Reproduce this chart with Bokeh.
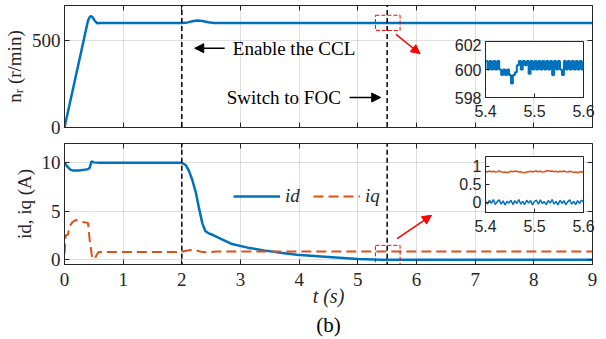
from bokeh.plotting import figure
from bokeh.layouts import column
from bokeh.models import (Range1d, FixedTicker, LinearAxis, CustomJSTickFormatter, Arrow,
                          NormalHead, Label, Legend, LegendItem, Title)
from bokeh.embed import file_html
from bokeh.resources import INLINE

# ---------------- data ----------------
t_speed = [0.0, 0.40, 0.43, 0.45, 0.48, 0.52, 0.56, 0.60, 1.0, 2.0, 2.1, 2.2, 2.27, 2.35, 2.45, 2.55, 2.7, 9.0]
n_r = [0, 612, 634, 639, 632, 610, 598, 600, 600, 600, 603, 611, 614, 611, 604, 600, 600, 600]

t_id = [0.0, 0.05, 0.10, 0.15, 0.25, 0.35, 0.40, 0.43, 0.46, 0.50, 0.60, 2.0, 2.07, 2.12, 2.18, 2.24,
        2.29, 2.35, 2.40, 2.45, 2.51, 2.62, 2.84, 3.12, 3.40, 3.68, 3.96, 4.5, 5.0, 5.4, 9.0]
i_d = [10.0, 9.6, 9.3, 9.2, 9.2, 9.3, 9.35, 9.5, 10.15, 10.05, 10.0, 10.0, 9.75, 9.2, 8.2, 6.9,
       5.4, 3.75, 2.96, 2.75, 2.6, 2.27, 1.65, 1.24, 0.96, 0.72, 0.5, 0.27, 0.06, 0.0, 0.0]

t_iq = [0.0, 0.02, 0.06, 0.08, 0.14, 0.20, 0.31, 0.40, 0.43, 0.47, 0.51, 0.55, 0.58, 2.0, 2.05,
        2.15, 2.25, 2.35, 2.45, 2.6, 9.0]
i_q = [0.62, 2.5, 2.6, 3.4, 3.9, 4.1, 3.9, 3.8, 2.0, 0.27, 0.05, 0.5, 0.8, 0.8, 0.9,
       1.0, 0.95, 0.78, 0.75, 0.85, 0.85]

t_zoom = [5.400, 5.404, 5.408, 5.412, 5.416, 5.420, 5.424, 5.428, 5.432, 5.436, 5.440, 5.444, 5.448,
          5.452, 5.456, 5.460, 5.464, 5.468, 5.472, 5.476, 5.480, 5.484, 5.488, 5.492, 5.496, 5.500,
          5.504, 5.508, 5.512, 5.516, 5.520, 5.524, 5.528, 5.532, 5.536, 5.540, 5.544, 5.548, 5.552,
          5.556, 5.560, 5.564, 5.568, 5.572, 5.576, 5.580, 5.584, 5.588, 5.592, 5.596, 5.600]
n_zoom = [600.6, 600.0, 600.6, 600.0, 600.6, 600.0, 600.6, 600.0, 599.6, 600.0, 599.6, 600.0, 599.6,
          599.0, 599.6, 599.8, 600.3, 600.6, 600.0, 600.6, 600.3, 600.6, 599.7, 600.6, 600.0, 600.6,
          600.0, 600.6, 600.0, 600.6, 600.0, 600.6, 600.0, 600.6, 599.6, 600.6, 600.0, 600.6, 600.0,
          599.6, 600.6, 600.0, 600.6, 600.0, 600.6, 600.0, 600.6, 600.0, 600.6, 600.0, 600.6]
iq_zoom = [0.86, 0.84, 0.87, 0.85, 0.86, 0.84, 0.85, 0.87, 0.85, 0.83, 0.84, 0.82, 0.84, 0.86, 0.85,
           0.87, 0.86, 0.84, 0.85, 0.83, 0.82, 0.84, 0.85, 0.86, 0.84, 0.86, 0.87, 0.85, 0.86, 0.84,
           0.85, 0.87, 0.88, 0.86, 0.87, 0.85, 0.86, 0.84, 0.86, 0.85, 0.87, 0.85, 0.84, 0.86, 0.85,
           0.83, 0.84, 0.82, 0.84, 0.85, 0.83]
id_zoom = [0.03, -0.05, 0.06, -0.03, 0.08, -0.06, 0.02, 0.07, -0.05, 0.04, -0.07, 0.03, -0.02, 0.06,
           -0.06, 0.05, -0.03, 0.08, -0.05, 0.03, -0.06, 0.06, -0.02, 0.05, -0.07, 0.03, 0.06, -0.05,
           0.07, -0.03, 0.02, -0.06, 0.05, -0.02, 0.08, -0.05, 0.03, -0.07, 0.06, -0.03, 0.05, -0.06,
           0.02, 0.07, -0.05, 0.03, -0.06, 0.05, -0.03, 0.06, 0.01]

x_ticks = [0, 1, 2, 3, 4, 5, 6, 7, 8, 9]
speed_ticks = [0, 500]
current_ticks = [0, 5, 10]
zoom_x_ticks = [5.4, 5.5, 5.6]
zoom_speed_ticks = [598, 600, 602]
zoom_current_ticks = [0, 0.5, 1]
zoom_current_labels = {0: "0", 0.5: "0.5", 1: "1"}
event_times = [2.0, 5.5]

BLUE = "#0072BD"
ORANGE = "#D95319"
AX = "#262626"
SERIF = "Liberation Serif"
SANS = "Liberation Sans"
FS = "19px"


def empty_fmt():
    return CustomJSTickFormatter(code="return ''")


def style_axis(ax, font, size):
    ax.major_tick_in = 5
    ax.major_tick_out = 0
    ax.minor_tick_in = 0
    ax.minor_tick_out = 0
    ax.axis_line_color = AX
    ax.major_tick_line_color = AX
    ax.major_label_text_font = font
    ax.major_label_text_font_size = size
    ax.major_label_text_color = AX
    ax.axis_label_text_font = font
    ax.axis_label_text_font_size = size
    ax.axis_label_text_font_style = "normal"
    ax.axis_label_text_color = AX


def style_main(p, yticks, ylabel):
    p.outline_line_color = AX
    p.outline_line_width = 1
    bx = p.below[0]
    ly = p.left[0]
    bx.ticker = FixedTicker(ticks=x_ticks)
    ly.ticker = FixedTicker(ticks=yticks)
    style_axis(bx, SERIF, FS)
    style_axis(ly, SERIF, FS)
    ly.major_label_standoff = 4
    ly.axis_label = ylabel
    ly.axis_label_standoff = 4
    p.grid.grid_line_color = AX
    p.grid.grid_line_alpha = 0.15
    p.xgrid.ticker = FixedTicker(ticks=x_ticks)
    p.ygrid.ticker = FixedTicker(ticks=yticks)
    # box ticks on top and right
    top = LinearAxis(ticker=FixedTicker(ticks=x_ticks), formatter=empty_fmt(), major_tick_in=5,
                     major_tick_out=0, minor_tick_in=0, minor_tick_out=0, axis_line_color=None,
                     major_tick_line_color=AX, major_label_standoff=0)
    right = LinearAxis(ticker=FixedTicker(ticks=yticks), formatter=empty_fmt(), major_tick_in=5,
                       major_tick_out=0, minor_tick_in=0, minor_tick_out=0, axis_line_color=None,
                       major_tick_line_color=AX, major_label_standoff=0)
    p.add_layout(top, "above")
    p.add_layout(right, "right")
    return bx, ly


# ---------------- top panel: speed ----------------
p1 = figure(width=606, height=140, x_range=Range1d(0, 9), y_range=Range1d(0, 700),
            output_backend="svg", toolbar_location=None,
            min_border_left=63, min_border_right=4, min_border_top=5, min_border_bottom=13)
bx1, ly1 = style_main(p1, speed_ticks, "nᵣ (r/min)")
bx1.formatter = empty_fmt()
bx1.major_label_standoff = 0
p1.line(t_speed, n_r, line_color=BLUE, line_width=2.5)
for t in event_times:
    p1.add_layout(Arrow(end=None, x_start=t, y_start=720, x_end=t, y_end=-120,
                        line_color="black", line_width=1.5, line_dash="5 3"))
p1.quad(left=[5.3], right=[5.72], bottom=[557], top=[644], fill_color=None,
        line_color="red", line_width=1, line_dash="4 2")
p1.add_layout(Arrow(end=NormalHead(size=9, fill_color="red", line_color="red"),
                    x_start=5.65, y_start=534, x_end=6.06, y_end=423, line_color="red", line_width=1.5))
p1.add_layout(Arrow(end=NormalHead(size=9, fill_color="black", line_color="black"),
                    x_start=2.73, y_start=455, x_end=2.22, y_end=455, line_color="black", line_width=1.5))
p1.add_layout(Label(x=2.87, y=455, text="Enable the CCL", text_font=SERIF, text_font_size=FS,
                    text_baseline="middle", text_color="black"))
p1.add_layout(Arrow(end=NormalHead(size=9, fill_color="black", line_color="black"),
                    x_start=4.86, y_start=172, x_end=5.39, y_end=172, line_color="black", line_width=1.5))
p1.add_layout(Label(x=4.71, y=172, text="Switch to FOC", text_font=SERIF, text_font_size=FS,
                    text_baseline="middle", text_align="right", text_color="black"))

# ---------------- bottom panel: currents ----------------
p2 = figure(width=606, height=199, x_range=Range1d(0, 9), y_range=Range1d(-0.5, 12),
            output_backend="svg", toolbar_location=None,
            min_border_left=63, min_border_right=4, min_border_top=3, min_border_bottom=75)
bx2, ly2 = style_main(p2, current_ticks, "id, iq (A)")
bx2.major_label_standoff = 8
bx2.axis_label = "t (s)"
bx2.axis_label_standoff = -4
bx2.axis_label_text_font_size = "20px"
bx2.axis_label_text_font_style = "italic"
r_id = p2.line(t_id, i_d, line_color=BLUE, line_width=2.5)
r_iq = p2.line(t_iq, i_q, line_color=ORANGE, line_width=2, line_dash="10 5")
for t in event_times:
    p2.add_layout(Arrow(end=None, x_start=t, y_start=13, x_end=t, y_end=-0.5,
                        line_color="black", line_width=1.5, line_dash="5 3"))
p2.quad(left=[5.3], right=[5.72], bottom=[-1.5], top=[1.48], fill_color=None,
        line_color="red", line_width=1, line_dash="4 2")
p2.add_layout(Arrow(end=NormalHead(size=9, fill_color="red", line_color="red"),
                    x_start=5.67, y_start=2.17, x_end=6.255, y_end=4.58, line_color="red", line_width=1.5))
legend = Legend(items=[LegendItem(label="id", renderers=[r_id]), LegendItem(label="iq", renderers=[r_iq])],
                orientation="horizontal", location=(169, 57), glyph_width=47, glyph_height=20,
                label_standoff=5, spacing=8, padding=0, margin=0, border_line_color=None,
                background_fill_alpha=0, label_text_font=SERIF, label_text_font_size=FS,
                label_text_font_style="italic", label_text_color=AX)
p2.add_layout(legend)
p2.add_layout(Title(text="(b)", align="center", text_font=SERIF, text_font_size="21px",
                    text_font_style="normal", text_color="black", standoff=2), "below")


# ---------------- insets ----------------
def make_inset(left, top, yrange, yticks, overrides=None):
    f = figure(width=176, height=89, x_range=Range1d(5.4, 5.6), y_range=Range1d(*yrange),
               output_backend="svg", toolbar_location=None,
               min_border_left=40, min_border_right=14, min_border_top=3, min_border_bottom=30,
               styles={"position": "absolute", "left": f"{left}px", "top": f"{top}px"})
    f.border_fill_color = None
    f.background_fill_color = "white"
    f.outline_line_color = AX
    f.grid.grid_line_color = None
    f.below[0].ticker = FixedTicker(ticks=zoom_x_ticks)
    f.left[0].ticker = FixedTicker(ticks=yticks)
    if overrides:
        f.left[0].major_label_overrides = overrides
    for ax in (f.below[0], f.left[0]):
        style_axis(ax, SANS, "16px")
        ax.major_tick_in = 4
        ax.major_label_standoff = 4
    f.below[0].major_label_standoff = 7
    return f


ins1 = make_inset(421, 38, (598, 602), zoom_speed_ticks)
ins1.step(t_zoom, n_zoom, mode="after", line_color=BLUE, line_width=2)

ins2 = make_inset(421, 153, (-0.28, 1.27), zoom_current_ticks, zoom_current_labels)
ins2.line(t_zoom, iq_zoom, line_color=ORANGE, line_width=1.5)
ins2.line(t_zoom, id_zoom, line_color=BLUE, line_width=1.5)

layout = column(p1, p2, ins1, ins2, spacing=0)
open("out.html", "w").write(file_html(layout, INLINE))
